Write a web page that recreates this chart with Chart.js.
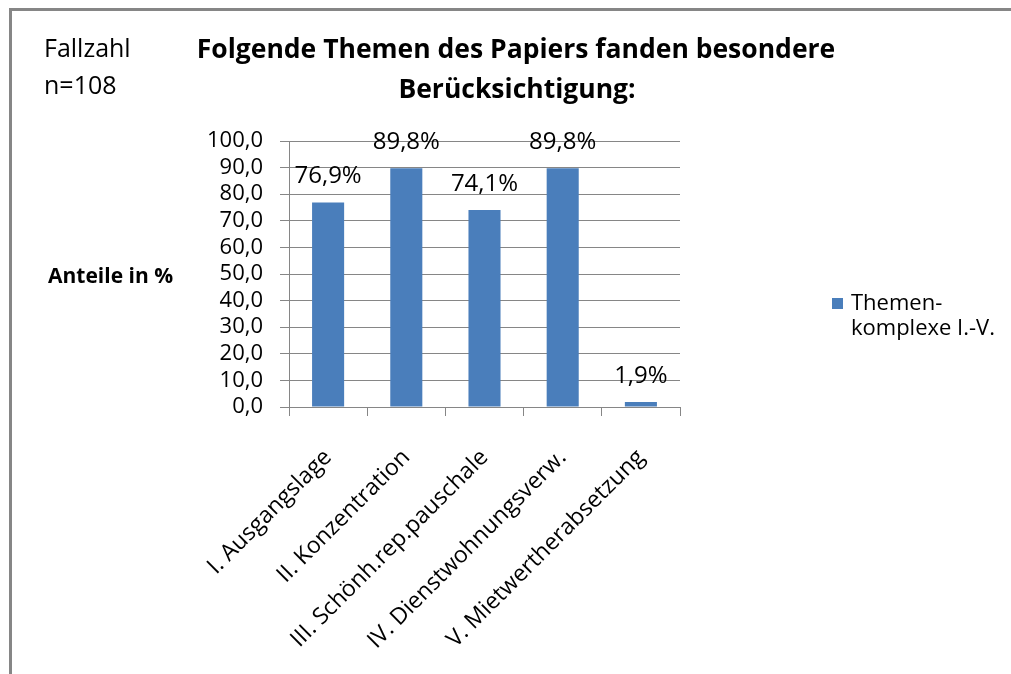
<!DOCTYPE html>
<html>
<head>
<meta charset="utf-8">
<script src="https://cdn.jsdelivr.net/npm/chart.js@4"></script>
<style>
  html, body { margin: 0; padding: 0; background: #fff; }
  #wrap { width: 1011px; height: 674px; position: relative; }
</style>
</head>
<body>
<div id="wrap"><canvas id="chart" width="1011" height="674"></canvas></div>
<script>
// chart data
const categories = ['I. Ausgangslage', 'II. Konzentration', 'III. Schönh.rep.pauschale', 'IV. Dienstwohnungsverw.', 'V. Mietwertherabsetzung'];
const values = [76.9, 89.8, 74.1, 89.8, 1.9];
const seriesName = ['Themen-', 'komplexe I.-V.'];
const titleLines = ['Folgende Themen des Papiers fanden besondere', 'Berücksichtigung:'];
const noteLines = ['Fallzahl', 'n=108'];
const yAxisName = 'Anteile in %';

const FONT = '"Open Sans", Lato, sans-serif';
const BLUE = '#4a7ebb';

function fmt(v) {
    return v.toFixed(1).replace('.', ',');
}

// frame, texts, legend and value labels
const decor = {
    id: 'decor',
    beforeDraw(chart) {
        const ctx = chart.ctx;
        ctx.save();
        ctx.fillStyle = '#fff';
        ctx.fillRect(0, 0, chart.width, chart.height);
        ctx.strokeStyle = '#868686';
        ctx.lineWidth = 3;
        ctx.beginPath();
        ctx.moveTo(10.5, chart.height);
        ctx.lineTo(10.5, 9.5);
        ctx.lineTo(chart.width, 9.5);
        ctx.stroke();
        ctx.restore();
    },
    afterDraw(chart) {
        const ctx = chart.ctx;
        ctx.save();
        ctx.fillStyle = '#000';
        ctx.textBaseline = 'middle';

        // title
        ctx.font = 'bold 26.5px ' + FONT;
        ctx.textAlign = 'center';
        ctx.fillText(titleLines[0], 516, 50);
        ctx.fillText(titleLines[1], 517, 90);

        // case count
        ctx.font = '25px ' + FONT;
        ctx.textAlign = 'left';
        ctx.fillText(noteLines[0], 44, 50);
        ctx.fillText(noteLines[1], 44, 87);

        // axis name
        ctx.font = 'bold 21px ' + FONT;
        ctx.fillText(yAxisName, 48, 277);

        // legend
        ctx.fillStyle = BLUE;
        ctx.fillRect(832, 298, 11, 11);
        ctx.fillStyle = '#000';
        ctx.font = '22px ' + FONT;
        ctx.fillText(seriesName[0], 851, 304);
        ctx.fillText(seriesName[1], 851, 329);

        // value labels
        ctx.font = '24px ' + FONT;
        ctx.textAlign = 'center';
        const meta = chart.getDatasetMeta(0);
        meta.data.forEach((bar, i) => {
            ctx.fillText(fmt(values[i]) + '%', bar.x, bar.y - 26);
        });
        ctx.restore();
    }
};

new Chart(document.getElementById('chart'), {
    type: 'bar',
    data: {
        labels: categories,
        datasets: [{
            label: seriesName.join(''),
            data: values,
            backgroundColor: BLUE,
            barPercentage: 0.41,
            categoryPercentage: 1.0
        }]
    },
    options: {
        responsive: false,
        animation: false,
        layout: { padding: { left: 189, top: 141, right: 331, bottom: 7 } },
        plugins: {
            legend: { display: false },
            title: { display: false },
            tooltip: { enabled: false }
        },
        scales: {
            x: {
                afterFit(scale) { scale.height = 260; },
                grid: { drawOnChartArea: false, drawTicks: true, tickLength: 9, color: '#868686', offset: true },
                border: { color: '#868686', width: 1 },
                ticks: {
                    color: '#000',
                    font: { family: FONT, size: 23 },
                    maxRotation: 45,
                    minRotation: 45,
                    autoSkip: false,
                    padding: 28
                }
            },
            y: {
                min: 0,
                max: 100,
                afterFit(scale) { scale.width = 100; },
                grid: { color: '#868686', tickLength: 9 },
                border: { color: '#868686', width: 1 },
                ticks: {
                    stepSize: 10,
                    autoSkip: false,
                    color: '#000',
                    font: { family: FONT, size: 22 },
                    padding: 17,
                    callback: (v) => fmt(v)
                }
            }
        }
    },
    plugins: [decor]
});
</script>
</body>
</html>
